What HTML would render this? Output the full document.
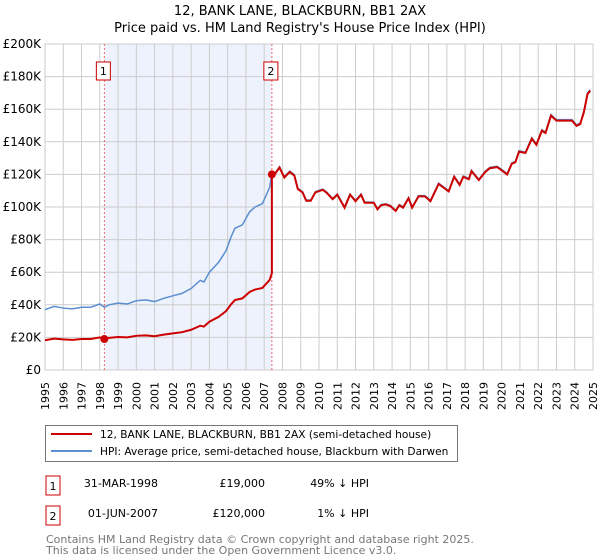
<!DOCTYPE html>
<html><head><meta charset="utf-8"><style>
body{margin:0;background:#fff;font-family:"Liberation Sans","DejaVu Sans",sans-serif;}
svg{display:block}
</style></head><body>
<svg id="c" width="600" height="560" xmlns="http://www.w3.org/2000/svg" font-family="'DejaVu Sans','Liberation Sans',sans-serif">
<text x="300" y="15" text-anchor="middle" font-size="13">12, BANK LANE, BLACKBURN, BB1 2AX</text>
<text x="300" y="32" text-anchor="middle" font-size="13">Price paid vs. HM Land Registry's House Price Index (HPI)</text>
<g id="plot"></g>
<g>
<rect x="45.5" y="425.5" width="412" height="36" fill="#fff" stroke="#777"/>
<line x1="51" y1="434" x2="92" y2="434" stroke="#cc0000" stroke-width="2"/>
<text x="100" y="438" font-size="10.6">12, BANK LANE, BLACKBURN, BB1 2AX (semi-detached house)</text>
<line x1="51" y1="451" x2="92" y2="451" stroke="#5b8fd0" stroke-width="2"/>
<text x="100" y="455" font-size="10.6">HPI: Average price, semi-detached house, Blackburn with Darwen</text>
</g>
<g font-size="11">
<rect x="46" y="476" width="14" height="19" fill="#fff" stroke="#cc0000"/>
<text x="53" y="490" text-anchor="middle">1</text>
<text x="158" y="487" text-anchor="end">31-MAR-1998</text>
<text x="265" y="487" text-anchor="end">£19,000</text>
<text x="369" y="487" text-anchor="end">49% ↓ HPI</text>
<rect x="46" y="506" width="14" height="19" fill="#fff" stroke="#cc0000"/>
<text x="53" y="520" text-anchor="middle">2</text>
<text x="158" y="517" text-anchor="end">01-JUN-2007</text>
<text x="265" y="517" text-anchor="end">£120,000</text>
<text x="369" y="517" text-anchor="end">1% ↓ HPI</text>
</g>
<text x="46" y="543" font-size="11" fill="#777">Contains HM Land Registry data © Crown copyright and database right 2025.</text>
<text x="46" y="554" font-size="11" fill="#777">This data is licensed under the Open Government Licence v3.0.</text>
</svg>
<script>
const hpiYears=[1995,1995.5,1996,1996.5,1997,1997.5,1998,1998.25,1998.5,1999,1999.5,2000,2000.5,2001,2001.5,2002,2002.5,2003,2003.5,2003.7,2004,2004.5,2004.9,2005.2,2005.4,2005.8,2006.2,2006.5,2006.9,2007.1,2007.3,2007.42,2007.6,2007.84,2008.1,2008.4,2008.65,2008.84,2009.1,2009.3,2009.55,2009.8,2010.2,2010.4,2010.75,2011,2011.4,2011.7,2012,2012.3,2012.5,2013,2013.2,2013.4,2013.65,2013.9,2014.2,2014.4,2014.6,2014.9,2015.1,2015.45,2015.8,2016.1,2016.55,2016.8,2017.1,2017.4,2017.7,2017.9,2018.2,2018.35,2018.75,2019.1,2019.35,2019.75,2020,2020.3,2020.55,2020.75,2020.95,2021.3,2021.65,2021.9,2022.2,2022.4,2022.7,2023,2023.3,2023.85,2024.1,2024.3,2024.5,2024.7,2024.85];
const hpiValues=[37,39,38,37.5,38.5,38.5,40.5,38.5,40,41,40.5,42.5,43,42,44,45.5,47,50,55,54,60,66,73,82,87,89,97,100,102,107,112,120.5,121,124.7,118.6,122,119.8,111.5,109.4,104.3,104.3,109.4,111,109.4,105.2,108,100,108,104,108,103,103,99,101.5,102,101,98,101.5,100,105.8,100,107,107,104,114.6,112.5,110,119,114,119,117.5,122.5,117,122,124.3,125,123,120.5,127,128,134.5,133.7,142.5,138.7,147.4,146,156.7,153.6,153.6,153.6,150.4,151.5,158.8,170,172];
const saleDates=[1998.25,2007.42];
const salePrices=[19,120];
const saleLabels=["1","2"];
const yTicks=[0,20,40,60,80,100,120,140,160,180,200];
const yTickLabels=["£0","£20K","£40K","£60K","£80K","£100K","£120K","£140K","£160K","£180K","£200K"];
const xTicks=[1995,1996,1997,1998,1999,2000,2001,2002,2003,2004,2005,2006,2007,2008,2009,2010,2011,2012,2013,2014,2015,2016,2017,2018,2019,2020,2021,2022,2023,2024,2025];

const X0=45,X1=593,Y0=370,Y1=44;
const xs=t=>X0+(t-1995)/30*(X1-X0);
const ys=v=>Y0-v/200*(Y0-Y1);
const NS="http://www.w3.org/2000/svg";
const g=document.getElementById('plot');
function mk(tag,attrs,parent){const e=document.createElementNS(NS,tag);for(const k in attrs)e.setAttribute(k,attrs[k]);(parent||g).appendChild(e);return e;}
function hpiAt(t){for(let i=1;i<hpiYears.length;i++){if(t<=hpiYears[i]){const a=hpiYears[i-1],b=hpiYears[i];return hpiValues[i-1]+(hpiValues[i]-hpiValues[i-1])*(t-a)/(b-a);}}return hpiValues[hpiValues.length-1];}

const shade=mk('rect',{x:xs(saleDates[0]),y:Y1,width:xs(saleDates[1])-xs(saleDates[0]),height:Y0-Y1,fill:'#eef2fc'});


xTicks.forEach(t=>{const l=mk('line',{x1:xs(t),x2:xs(t),y1:Y1,y2:Y0,stroke:'#ccc'});


const tx=mk('text',{x:0,y:0,'font-size':11,'text-anchor':'end',transform:`translate(${xs(t)+4},382) rotate(-90)`});tx.textContent=t;

});
yTicks.forEach((v,i)=>{const l=mk('line',{x1:X0,x2:X1,y1:ys(v),y2:ys(v),stroke:'#ccc'});


const tx=mk('text',{x:X0-4,y:ys(v)+4,'font-size':12,'text-anchor':'end'});tx.textContent=yTickLabels[i];

});
const fr=mk('rect',{x:X0,y:Y1,width:X1-X0,height:Y0-Y1,fill:'none',stroke:'#ccc'});



saleDates.forEach((d,i)=>{const l=mk('line',{x1:xs(d),x2:xs(d),y1:Y1,y2:Y0,stroke:'#e66','stroke-dasharray':'2,2'});


const r=mk('rect',{x:xs(d)-8,y:62,width:14,height:18,fill:'#fff',stroke:'#cc0000'});


const tx=mk('text',{x:xs(d)-1,y:75,'font-size':11,'text-anchor':'middle'});tx.textContent=saleLabels[i];

});

const hp=mk('polyline',{points:hpiYears.map((t,i)=>xs(t)+','+ys(hpiValues[i])).join(' '),fill:'none',stroke:'#5b8fd0','stroke-width':1.5});



const r1=salePrices[0]/hpiAt(saleDates[0]), r2=salePrices[1]/hpiAt(saleDates[1]);
const pts=[];
hpiYears.forEach((t,i)=>{if(t<saleDates[1])pts.push([t,hpiValues[i]*r1]);});
pts.push([saleDates[1],hpiAt(saleDates[1])*r1]);
pts.push([saleDates[1],salePrices[1]]);
hpiYears.forEach((t,i)=>{if(t>saleDates[1])pts.push([t,hpiValues[i]*r2]);});
const rp=mk('polyline',{points:pts.map(p=>xs(p[0])+','+ys(p[1])).join(' '),fill:'none',stroke:'#cc0000','stroke-width':2});


saleDates.forEach((d,i)=>{const c=mk('circle',{cx:xs(d),cy:ys(salePrices[i]),r:4,fill:'#cc0000'});

});
</script>
</body></html>
